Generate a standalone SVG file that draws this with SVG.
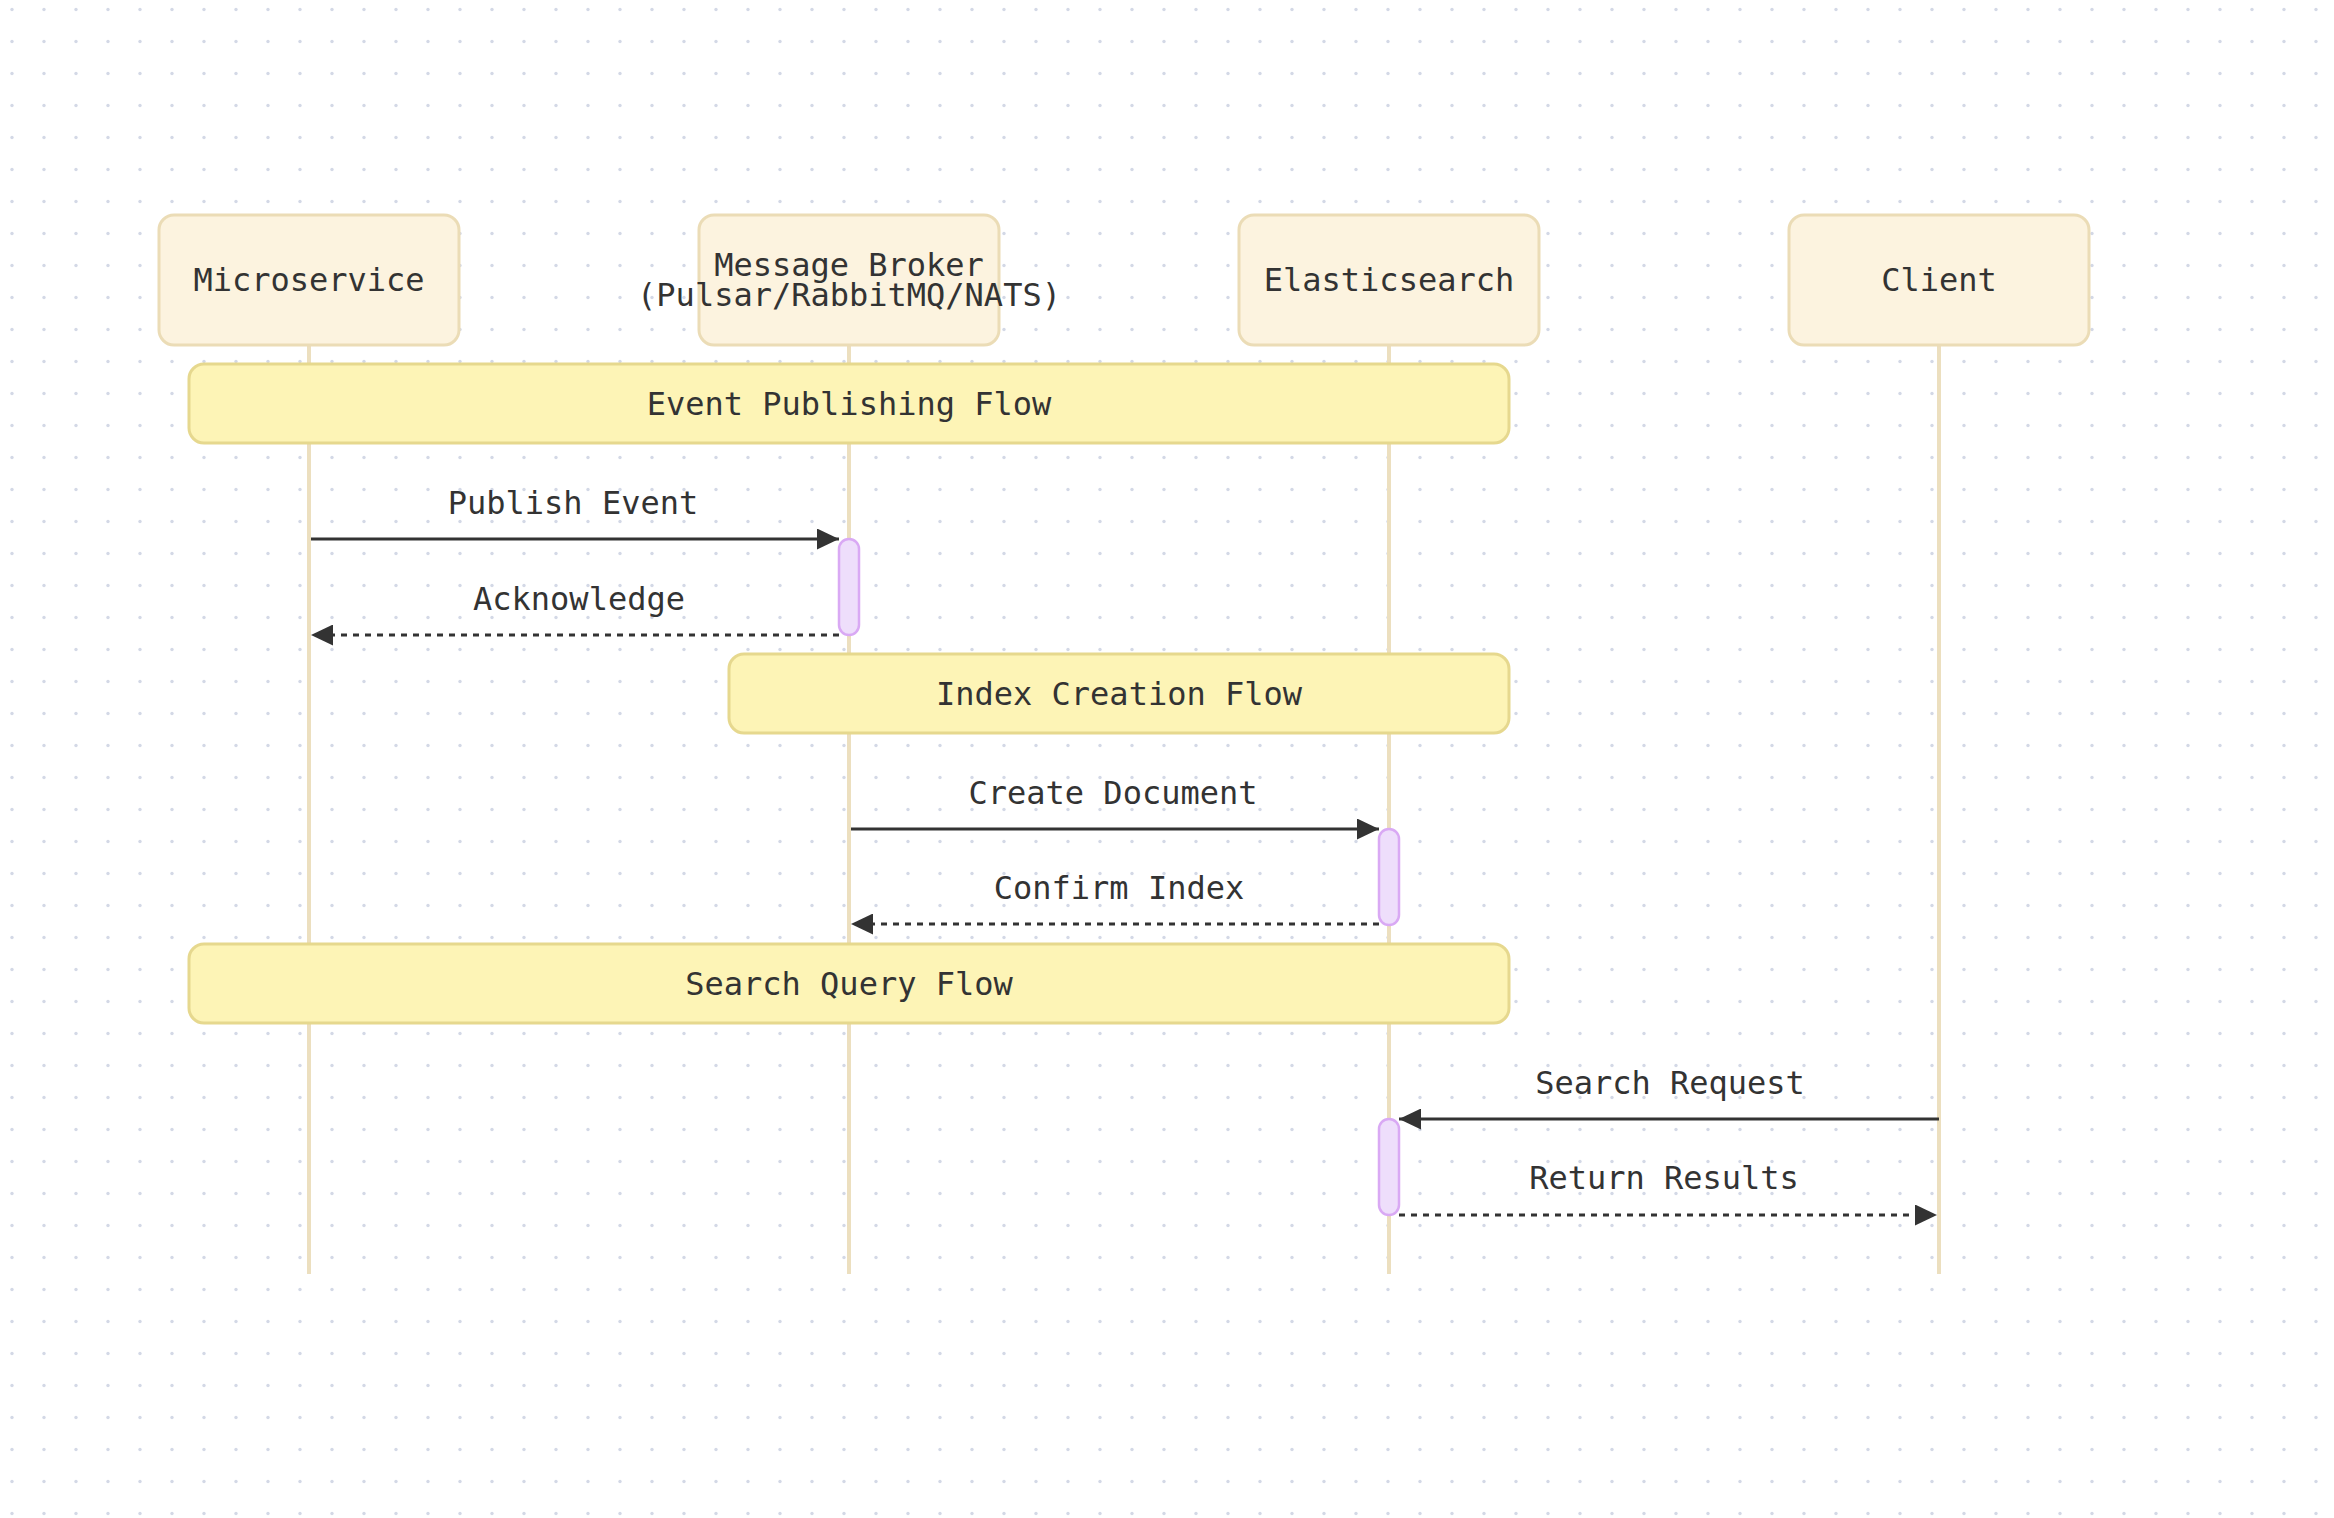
<svg xmlns="http://www.w3.org/2000/svg" width="2334" height="1518" viewBox="0 0 2334 1518">
<style>
.actor{fill:#fcf3df;stroke:#ebdcb6;stroke-width:3}
.lifeline{stroke:#ecdfbf;stroke-width:4;fill:none}
.note{fill:#fdf4b6;stroke:#e6d88e;stroke-width:3}
.act{fill:#eedefb;stroke:#d9a9f4;stroke-width:2.5}
.t{font-family:"DejaVu Sans Mono","Liberation Mono",monospace;font-size:32px;fill:#333333;text-anchor:middle}
.msg{stroke:#333333;stroke-width:3;fill:none}
.dash{stroke-dasharray:6 6}
</style>
<defs>
<pattern id="dots" patternUnits="userSpaceOnUse" x="0" y="0" width="32" height="32">
<circle cx="12" cy="9.5" r="1.7" fill="#d3d8e6"/>
</pattern>
<marker id="arr" markerUnits="userSpaceOnUse" viewBox="0 0 22 21" refX="22" refY="10.5" markerWidth="22" markerHeight="21" orient="auto">
<path d="M0,0 L22,10.5 L0,21 z" fill="#333333"/>
</marker>
</defs>
<rect x="0" y="0" width="2334" height="1518" fill="#ffffff"/>
<rect x="0" y="0" width="2334" height="1518" fill="url(#dots)"/>

<g id="lifelines">
<line class="lifeline" x1="309" y1="345" x2="309" y2="1274"/>
<line class="lifeline" x1="849" y1="345" x2="849" y2="1274"/>
<line class="lifeline" x1="1389" y1="345" x2="1389" y2="1274"/>
<line class="lifeline" x1="1939" y1="345" x2="1939" y2="1274"/>
</g>

<g id="microservice">
<rect class="actor" x="159" y="215" width="300" height="130" rx="15"/>
<text class="t" x="309" y="291">Microservice</text>
</g>
<g id="broker">
<rect class="actor" x="699" y="215" width="300" height="130" rx="15"/>
<text class="t" x="849" y="276">Message Broker</text>
<text class="t" x="849" y="306">(Pulsar/RabbitMQ/NATS)</text>
</g>
<g id="elasticsearch">
<rect class="actor" x="1239" y="215" width="300" height="130" rx="15"/>
<text class="t" x="1389" y="291">Elasticsearch</text>
</g>
<g id="client">
<rect class="actor" x="1789" y="215" width="300" height="130" rx="15"/>
<text class="t" x="1939" y="291">Client</text>
</g>

<g id="note-event">
<rect class="note" x="189" y="364" width="1320" height="79" rx="15"/>
<text class="t" x="849" y="415">Event Publishing Flow</text>
</g>
<g id="note-index">
<rect class="note" x="729" y="654" width="780" height="79" rx="15"/>
<text class="t" x="1119" y="705">Index Creation Flow</text>
</g>
<g id="note-search">
<rect class="note" x="189" y="944" width="1320" height="79" rx="15"/>
<text class="t" x="849" y="995">Search Query Flow</text>
</g>

<g id="connectors">
<line class="msg" x1="311" y1="539" x2="839" y2="539" marker-end="url(#arr)"/>
<text class="t" x="573" y="514">Publish Event</text>
<line class="msg dash" x1="839" y1="635" x2="311" y2="635" marker-end="url(#arr)"/>
<text class="t" x="579" y="610">Acknowledge</text>
<line class="msg" x1="851" y1="829" x2="1379" y2="829" marker-end="url(#arr)"/>
<text class="t" x="1113" y="804">Create Document</text>
<line class="msg dash" x1="1379" y1="924" x2="851" y2="924" marker-end="url(#arr)"/>
<text class="t" x="1119" y="899">Confirm Index</text>
<line class="msg" x1="1939" y1="1119" x2="1399" y2="1119" marker-end="url(#arr)"/>
<text class="t" x="1670" y="1094">Search Request</text>
<line class="msg dash" x1="1399" y1="1215" x2="1937" y2="1215" marker-end="url(#arr)"/>
<text class="t" x="1664" y="1189">Return Results</text>
</g>

<g id="activations">
<rect class="act" x="839" y="539" width="20" height="96" rx="10"/>
<rect class="act" x="1379" y="829" width="20" height="96" rx="10"/>
<rect class="act" x="1379" y="1119" width="20" height="96" rx="10"/>
</g>
</svg>
